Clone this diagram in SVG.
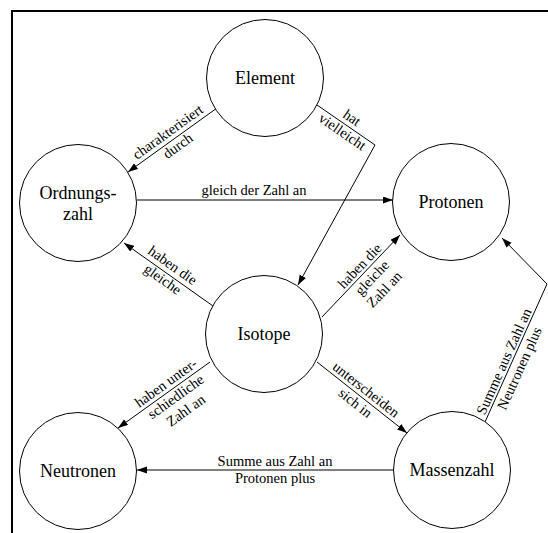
<svg xmlns="http://www.w3.org/2000/svg" width="548" height="533" viewBox="0 0 548 533">
<style>
.node{fill:#fff;stroke:#000;stroke-width:1}
.nl{font-family:"Liberation Serif","Times New Roman",serif;font-size:18px;fill:#000;text-anchor:middle}
.el{font-family:"Liberation Serif","Times New Roman",serif;font-size:14.5px;fill:#000;text-anchor:middle}
.edge{fill:none;stroke:#000;stroke-width:1}
</style>
<defs>
<marker id="arr" markerUnits="userSpaceOnUse" markerWidth="11" markerHeight="8" refX="10" refY="3.5" orient="auto">
<path d="M0,0 L10,3.5 L0,7 z" fill="#000"/>
</marker>
</defs>
<rect x="12" y="11" width="600" height="600" fill="#fff" stroke="#000" stroke-width="2"/>
<g id="connectors">
<path class="edge" d="M217,108 L128,172" marker-end="url(#arr)"/>
<path class="edge" d="M317,105 L375,145 L298,285" marker-end="url(#arr)"/>
<path class="edge" d="M137,200 L393,200" marker-end="url(#arr)"/>
<path class="edge" d="M213,306 L124,243" marker-end="url(#arr)"/>
<path class="edge" d="M322,317 L400,235" marker-end="url(#arr)"/>
<path class="edge" d="M210,362 L118,428" marker-end="url(#arr)"/>
<path class="edge" d="M317,362 L407,433" marker-end="url(#arr)"/>
<path class="edge" d="M393,470 L137,470" marker-end="url(#arr)"/>
<path class="edge" d="M485,422 L547,284 L502,238" marker-end="url(#arr)"/>
<g transform="translate(173,139) rotate(-35.7)"><text class="el" y="-4">charakterisiert</text><text class="el" y="13">durch</text></g>
<g transform="translate(347,125) rotate(34.6)"><text class="el" y="-4">hat</text><text class="el" y="13">vielleicht</text></g>
<text class="el" x="254" y="195">gleich der Zahl an</text>
<g transform="translate(167.5,272.5) rotate(35.3)"><text class="el" y="-4">haben die</text><text class="el" y="13">gleiche</text></g>
<g transform="translate(366,272) rotate(-46.4)"><text class="el" y="-4">haben die</text><text class="el" y="13">gleiche</text><text class="el" y="30">Zahl an</text></g>
<g transform="translate(171,390) rotate(-35.7)"><text class="el" y="-4">haben unter-</text><text class="el" y="13">schiedliche</text><text class="el" y="30">Zahl an</text></g>
<g transform="translate(360.5,396.5) rotate(38.3)"><text class="el" y="-4">unterscheiden</text><text class="el" y="13">sich in</text></g>
<g><text class="el" x="275" y="466">Summe aus Zahl an</text><text class="el" x="275" y="483">Protonen plus</text></g>
<g transform="translate(512,365) rotate(-65.8)"><text class="el" y="-4">Summe aus Zahl an</text><text class="el" y="13">Neutronen plus</text></g>
</g>
<g id="element"><circle class="node" cx="265" cy="78" r="58.5"/><text class="nl" x="265" y="84">Element</text></g>
<g id="ordnungszahl"><circle class="node" cx="78" cy="203" r="58.5"/><text class="nl" x="78" y="198.5">Ordnungs-</text><text class="nl" x="78" y="219.5">zahl</text></g>
<g id="protonen"><circle class="node" cx="451" cy="202" r="58.5"/><text class="nl" x="451" y="208">Protonen</text></g>
<g id="isotope"><circle class="node" cx="264" cy="334" r="58.5"/><text class="nl" x="264" y="340">Isotope</text></g>
<g id="neutronen"><circle class="node" cx="78" cy="471" r="58.5"/><text class="nl" x="78" y="477">Neutronen</text></g>
<g id="massenzahl"><circle class="node" cx="452" cy="470" r="58.5"/><text class="nl" x="452" y="476">Massenzahl</text></g>
</svg>
